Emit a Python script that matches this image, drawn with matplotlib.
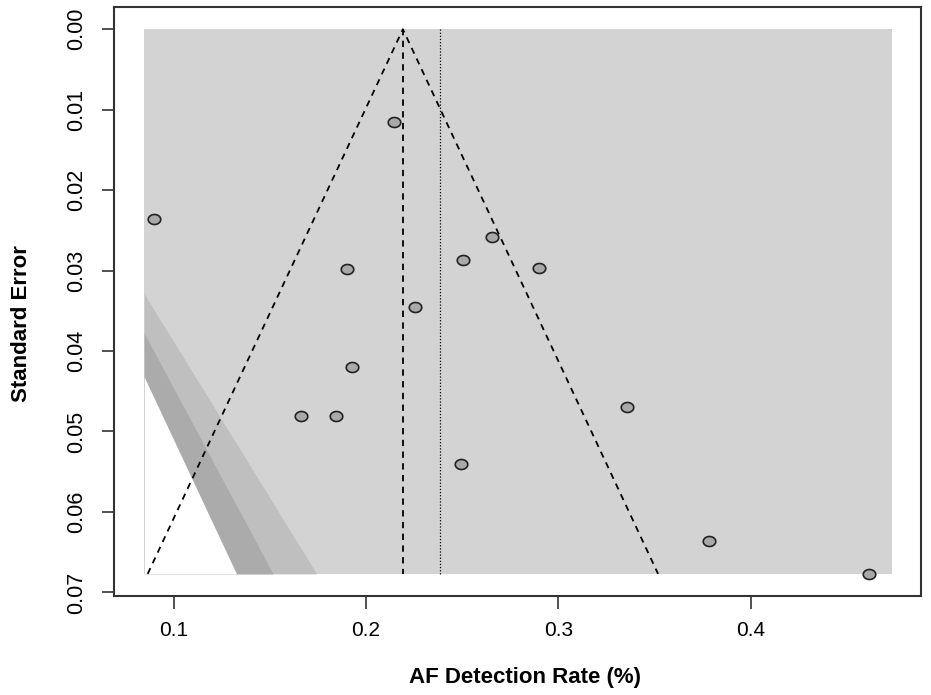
import numpy as np
import matplotlib.pyplot as plt
from matplotlib.path import Path

plt.rcParams["font.family"] = ["Liberation Sans", "DejaVu Sans"]

# study estimates (detection rate) and their standard errors
rate = [0.2145, 0.0896, 0.1904, 0.2256, 0.2656, 0.2505, 0.2898,
        0.1929, 0.1664, 0.1842, 0.3357, 0.2495, 0.3784, 0.4616]
se = [0.01156, 0.02362, 0.02980, 0.03456, 0.02578, 0.02872, 0.02964,
      0.04202, 0.04807, 0.04807, 0.04695, 0.05408, 0.06365, 0.06775]

pooled = 0.2192      # dashed centre line of the funnel
ref_line = 0.2387    # dotted line
se_max = 0.0677
x_min, x_max = 0.0847, 0.4733

# contour levels (95, 97.5, 99 %) around zero, shades
z_levels = [2.5758, 2.2414, 1.96]
shades = ["#bfbfbf", "#ababab", "white"]
back = "#d3d3d3"

fig = plt.figure(figsize=(9.31, 6.95), dpi=100)
ax = fig.add_axes([114 / 931, 1 - 596 / 695, 807 / 931, 589 / 695])

se_grid = np.linspace(0, se_max, 400)
ax.fill_betweenx([0, se_max], x_min, x_max, color=back, lw=0, zorder=1)
for z, col in zip(z_levels, shades):
    edge = np.clip(z * se_grid, x_min, x_max)
    ax.fill_betweenx(se_grid, x_min, edge, color=col, lw=0, zorder=2)

# funnel
ax.plot([pooled - 1.96 * se_max, pooled, pooled + 1.96 * se_max],
        [se_max, 0, se_max], color="black", ls=(0, (3.5, 3)), lw=1.3, zorder=3)
ax.plot([pooled, pooled], [0, se_max], color="black", ls=(0, (3.5, 3)), lw=1.3, zorder=3)
ax.plot([ref_line, ref_line], [0, se_max], color="black", ls=(0, (1, 1.5)), lw=0.9, zorder=3)

# slightly wide oval markers
t = np.linspace(0, 2 * np.pi, 60)
oval = Path(np.column_stack([1.25 * np.cos(t), np.sin(t)]), closed=True)
ax.plot(rate, se, ls="none", marker=oval, ms=9, mfc="#a9a9a9", mec="#222222",
        mew=1.2, zorder=4)

ax.set_xlim(0.0690, 0.4886)
ax.set_ylim(0.07045, -0.00277)
ax.set_xticks([0.1, 0.2, 0.3, 0.4])
ax.set_xticklabels(["0.1", "0.2", "0.3", "0.4"], fontsize=15)
ax.set_yticks(np.arange(0, 0.071, 0.01))
ax.set_yticklabels([f"{v:.2f}" for v in np.arange(0, 0.071, 0.01)],
                   rotation=90, va="center", fontsize=15.5)

ax.tick_params(axis="both", direction="out", length=9, width=1.2, color="#333333")
ax.tick_params(axis="x", pad=9)
ax.tick_params(axis="y", pad=10)
for s in ax.spines.values():
    s.set_linewidth(1.5)
    s.set_color("#333333")

fig.text(525 / 931, 1 - 677 / 695, "AF Detection Rate (%)", ha="center", va="center",
         fontsize=16, fontweight="bold")
fig.text(22 / 931, 1 - 324 / 695, "Standard Error", ha="center", va="center",
         rotation=90, fontsize=16, fontweight="bold")

fig.savefig("out.png", dpi=100)
